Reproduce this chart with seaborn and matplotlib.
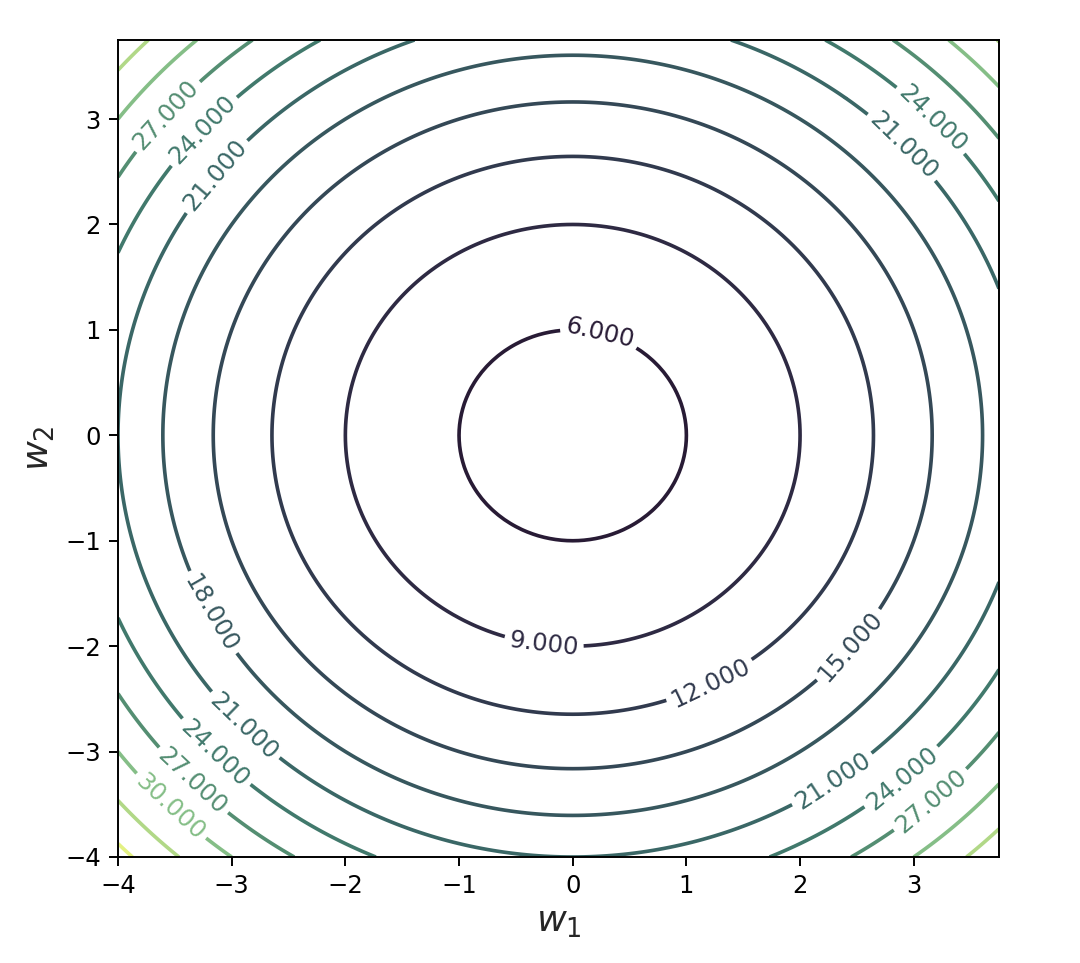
import numpy as np
import matplotlib
matplotlib.use("Agg")
import matplotlib.pyplot as plt
import seaborn as sns

# ---- data ----
w1_values = np.linspace(-4.0, 3.75, 156)
w2_values = np.linspace(-4.0, 3.75, 156)
offset = 5.0                       # value at the centre of the bowl
levels = [6, 9, 12, 15, 18, 21, 24, 27, 30, 33, 36]
x_ticks = [-4, -3, -2, -1, 0, 1, 2, 3]
y_ticks = [-4, -3, -2, -1, 0, 1, 2, 3]
label_spots = [
    (0.24, 0.98), (-0.25, -1.95), (1.23, -2.39), (2.44, -2.0),
    (-3.15, -1.67), (-2.9, -2.77), (-3.17, -3.04), (-3.37, -3.31),
    (-3.57, -3.56), (2.28, -3.26), (2.89, -3.24), (3.14, -3.45),
    (-3.63, 3.09), (-3.26, 2.9), (-3.15, 2.47), (3.16, 3.0), (2.92, 2.76),
]

W1, W2 = np.meshgrid(w1_values, w2_values)
Z = W1 ** 2 + W2 ** 2 + offset

sns.set_style("ticks")
plt.rcParams['font.family'] = ['DejaVu Sans']
plt.rcParams['axes.edgecolor'] = 'black'
plt.rcParams['xtick.color'] = 'black'
plt.rcParams['ytick.color'] = 'black'

# viridis, muted and darkened (less so for the outer, yellow rings)
base = np.array(sns.color_palette("viridis", len(levels)))
lum = (base @ np.array([0.299, 0.587, 0.114]))[:, None]
muted = 0.5 * base + 0.5 * lum
shade = np.linspace(0.8, 1.0, len(levels))[:, None] ** 2 * np.where(
    np.arange(len(levels))[:, None] >= 8, 1.15, 1.0)
muted = np.clip(muted * shade, 0, 1)
line_colors = [tuple(c) for c in muted]

dpi = 175
fig = plt.figure(figsize=(1080 / dpi, 963 / dpi), dpi=dpi)
ax = fig.add_axes([118 / 1080, 1 - 857 / 963, (999 - 118) / 1080, (857 - 40) / 963])

cs = ax.contour(W1, W2, Z, levels=levels, colors=line_colors, linewidths=1.5)
ax.clabel(cs, inline=True, fontsize=10, fmt='%1.3f', manual=label_spots)

ax.set_xticks(x_ticks)
ax.set_yticks(y_ticks)
ax.tick_params(labelsize=10, length=3.5, width=0.8)
ax.set_xlabel(r'$w_1$', fontsize=15, labelpad=3)
ax.set_ylabel(r'$w_2$', fontsize=15, labelpad=4)
for s in ax.spines.values():
    s.set_linewidth(0.8)

fig.savefig("out.png", dpi=dpi, facecolor='white')
